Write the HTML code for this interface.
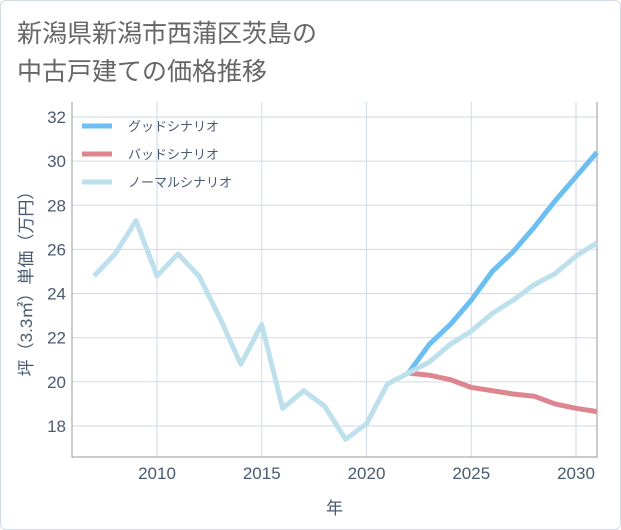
<!DOCTYPE html>
<html><head><meta charset="utf-8"><style>
body{margin:0;background:#fff;}
#card{position:absolute;left:0;top:0;width:619px;height:528px;border:1px solid #d5dbe2;border-radius:6px;background:#fff;}
svg text{font-family:"Liberation Sans","Noto Sans CJK JP",sans-serif;}
</style></head><body>
<div id="card"></div>
<svg id="c" width="621" height="530" style="position:absolute;left:0;top:0">
<text x="17" y="42" font-size="25" fill="#666">新潟県新潟市西蒲区茨島の</text>
<text x="17" y="80" font-size="25" fill="#666">中古戸建ての価格推移</text>
</svg>
<script>
const years=[2007,2008,2009,2010,2011,2012,2013,2014,2015,2016,2017,2018,2019,2020,2021,2022];
const normalHist=[24.8,25.8,27.3,24.8,25.8,24.8,22.9,20.8,22.6,18.8,19.6,18.9,17.4,18.1,19.9,20.4];
const futureYears=[2022,2023,2024,2025,2026,2027,2028,2029,2030,2031];
const good=[20.4,21.7,22.6,23.7,25.0,25.9,27.0,28.2,29.3,30.4];
const bad=[20.4,20.3,20.1,19.75,19.6,19.45,19.35,19.0,18.8,18.65];
const normal=[20.4,20.9,21.7,22.3,23.1,23.7,24.4,24.9,25.7,26.3];
const xTicks=[2010,2015,2020,2025,2030];
const yTicks=[18,20,22,24,26,28,30,32];
const svg=document.getElementById('c');const NS='http://www.w3.org/2000/svg';
const L=72,R=597,T=102,B=457;
const X=y=>157+(y-2010)*(576-157)/20;
const Y=v=>117+(32-v)*(426-117)/14;
function mk(t,a,p){const e=document.createElementNS(NS,t);for(const k in a)e.setAttribute(k,a[k]);(p||svg).appendChild(e);return e;}
const plot=mk('rect',{x:L,y:T,width:R-L,height:B-T,fill:'#fff',stroke:'none'});


for(const v of yTicks){
 const g=mk('line',{x1:L,x2:R,y1:Y(v),y2:Y(v),stroke:'#d0dae6','stroke-width':1});
 
 
 const t=mk('text',{x:L-6,y:Y(v)+6,'text-anchor':'end','font-size':17,fill:'#4a5a70'});t.textContent=v;
 
 
}
for(const v of xTicks){
 const g=mk('line',{x1:X(v),x2:X(v),y1:T,y2:B,stroke:'#d0dae6','stroke-width':1});
 
 
 const t=mk('text',{x:X(v),y:B+22,'text-anchor':'middle','font-size':17,fill:'#4a5a70'});t.textContent=v;
 
 
}
const ax=mk('path',{d:`M${L},${T}V${B}H${R}V${T}`,fill:'none',stroke:'#999','stroke-width':1});


function line(xs,vs,col,name){
 const p=mk('polyline',{points:xs.map((x,i)=>X(x)+','+Y(vs[i])).join(' '),fill:'none',stroke:col,'stroke-width':5,'stroke-linejoin':'round'});
 
 
}
line(futureYears,bad,'#de868f','bad-scenario-line');
line(futureYears,good,'#6dbff2','good-scenario-line');
line(years,normalHist,'#bde0ec','normal-history-line');
line(futureYears,normal,'#bde0ec','normal-scenario-line');
const leg=[['グッドシナリオ','#6dbff2'],['バッドシナリオ','#de868f'],['ノーマルシナリオ','#bde0ec']];
leg.forEach((l,i)=>{
 const y=126+i*28;
 const s=mk('line',{x1:82,x2:112,y1:y,y2:y,stroke:l[1],'stroke-width':5});
 
 
 const t=mk('text',{x:128,y:y+5,'font-size':13,fill:'#4a5a70'});t.textContent=l[0];
 
 
});
const xt=mk('text',{x:(L+R)/2,y:B+57,'text-anchor':'middle','font-size':17,fill:'#4a5a70'});xt.textContent='年';


const yt=mk('text',{x:0,y:0,'text-anchor':'middle','font-size':17,fill:'#4a5a70',transform:`translate(32,${(T+B)/2}) rotate(-90)`});yt.textContent='坪（3.3㎡）単価（万円）';


</script>
</body></html>
